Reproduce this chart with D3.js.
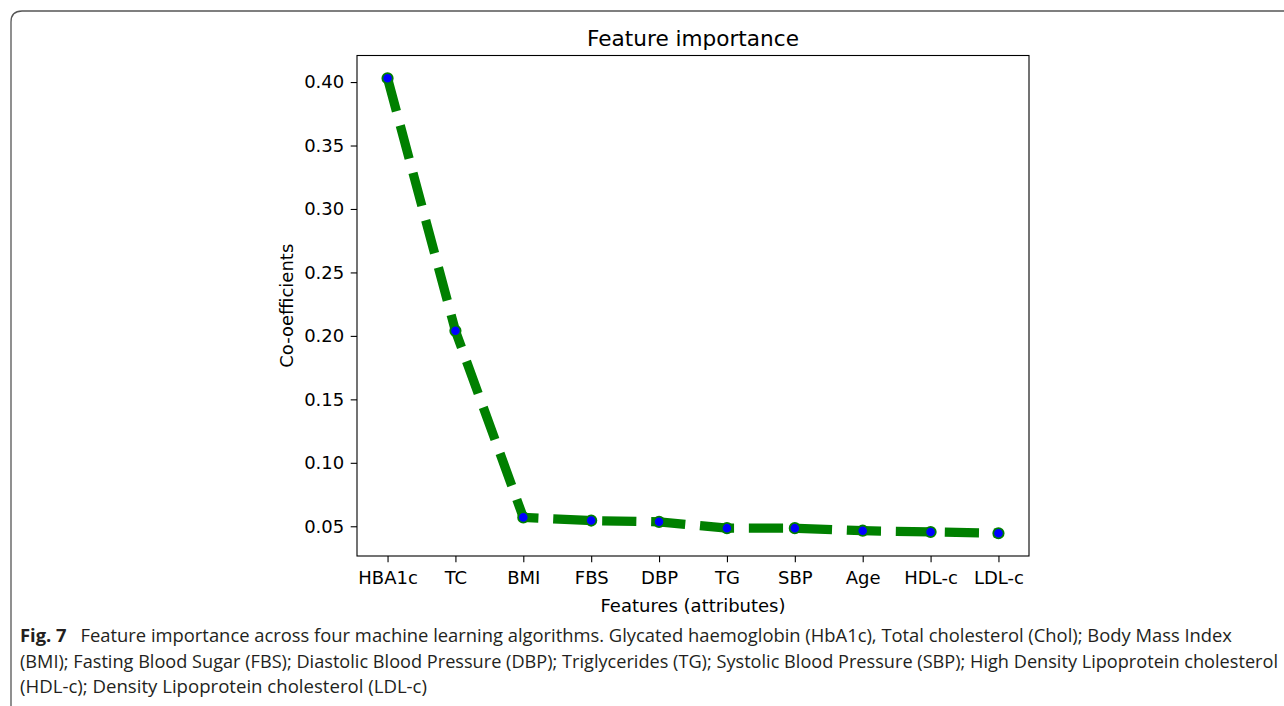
<!DOCTYPE html>
<html>
<head>
<meta charset="utf-8">
<script src="https://cdn.jsdelivr.net/npm/d3@7"></script>
<style>
  body { margin: 0; background: #fff; }
  svg { display: block; }
</style>
</head>
<body>
<svg></svg>
<script>
const features = ['HBA1c', 'TC', 'BMI', 'FBS', 'DBP', 'TG', 'SBP', 'Age', 'HDL-c', 'LDL-c'],
      coefficients = [0.403, 0.204, 0.057, 0.0545, 0.0535, 0.0485, 0.0485, 0.0465, 0.0455, 0.0445],
      yTicks = [0.05, 0.10, 0.15, 0.20, 0.25, 0.30, 0.35, 0.40],
      captionLines = [
        'Feature importance across four machine learning algorithms. Glycated haemoglobin (HbA1c), Total cholesterol (Chol); Body Mass Index',
        '(BMI); Fasting Blood Sugar (FBS); Diastolic Blood Pressure (DBP); Triglycerides (TG); Systolic Blood Pressure (SBP); High Density Lipoprotein cholesterol',
        '(HDL-c); Density Lipoprotein cholesterol (LDL-c)'
      ];

const width = 1284,
      height = 706,
      plotLeft = 357,
      plotRight = 1029,
      plotTop = 55.5,
      plotBottom = 556,
      font = '"DejaVu Sans", sans-serif',
      data = features.map((f, i) => ({ feature: f, value: coefficients[i] })),
      lo = d3.min(coefficients),
      hi = d3.max(coefficients),
      pad = (hi - lo) * 0.05,
      xScale = d3.scalePoint()
                 .domain(features)
                 .range([plotLeft, plotRight])
                 .padding(0.45),
      yScale = d3.scaleLinear()
                 .domain([lo - pad, hi + pad])
                 .range([plotBottom, plotTop]),
      xAxis = d3.axisBottom(xScale)
                .tickSize(6.3)
                .tickPadding(8.5)
                .tickSizeOuter(0),
      yAxis = d3.axisLeft(yScale)
                .tickValues(yTicks)
                .tickFormat(d3.format('.2f'))
                .tickSize(6.3)
                .tickPadding(6.5)
                .tickSizeOuter(0);

const svg = d3.select('svg')
    .attr('width', width)
    .attr('height', height);

// rounded frame of the figure box (runs off the right and bottom edge)
svg.append('path')
    .attr('d', `M11,${height + 2} L11,22 Q11,11 22,11 L${width + 2},11`)
    .attr('fill', 'none')
    .attr('stroke', '#555')
    .attr('stroke-width', 1.3);

const gx = svg.append('g')
    .attr('transform', `translate(0, ${plotBottom})`)
    .call(xAxis);

const gy = svg.append('g')
    .attr('transform', `translate(${plotLeft}, 0)`)
    .call(yAxis);

[gx, gy].forEach((g) => {
  g.select('.domain').remove();
  g.selectAll('line').attr('stroke', '#000').attr('stroke-width', 1.1);
  g.selectAll('text')
    .attr('fill', '#000')
    .style('font-family', font)
    .style('font-size', '18px');
});

svg.append('rect')
    .attr('x', plotLeft)
    .attr('y', plotTop)
    .attr('width', plotRight - plotLeft)
    .attr('height', plotBottom - plotTop)
    .attr('fill', 'none')
    .attr('stroke', '#000')
    .attr('stroke-width', 1.1);

const line = d3.line()
    .x((d) => xScale(d.feature))
    .y((d) => yScale(d.value));

svg.append('path')
    .datum(data)
    .attr('d', line)
    .attr('fill', 'none')
    .attr('stroke', 'green')
    .attr('stroke-width', 9.25)
    .attr('stroke-dasharray', '34.2,14.8')
    .attr('stroke-linecap', 'butt')
    .attr('stroke-linejoin', 'round');

svg.selectAll('circle')
  .data(data)
  .enter()
  .append('circle')
    .attr('cx', (d) => xScale(d.feature))
    .attr('cy', (d) => yScale(d.value))
    .attr('r', 5.2)
    .attr('fill', 'blue')
    .attr('stroke', 'green')
    .attr('stroke-width', 1.8);

svg.append('text')
    .text('Feature importance')
    .attr('x', (plotLeft + plotRight) / 2)
    .attr('y', 46)
    .style('text-anchor', 'middle')
    .style('font-family', font)
    .style('font-size', '21.6px');

svg.append('text')
    .text('Features (attributes)')
    .attr('x', (plotLeft + plotRight) / 2)
    .attr('y', 612)
    .style('text-anchor', 'middle')
    .style('font-family', font)
    .style('font-size', '18px');

svg.append('text')
    .text('Co-oefficients')
    .attr('transform', `translate(293, ${(plotTop + plotBottom) / 2}) rotate(-90)`)
    .style('text-anchor', 'middle')
    .style('font-family', font)
    .style('font-size', '18px');

// caption
const capFont = '"Open Sans", "Noto Sans", sans-serif',
      capY = [642, 667.5, 693],
      capLen = [1212, 1258, 407];

captionLines.forEach((txt, i) => {
  const t = svg.append('text')
      .attr('x', 20)
      .attr('y', capY[i])
      .attr('textLength', capLen[i])
      .attr('lengthAdjust', 'spacingAndGlyphs')
      .attr('fill', '#231f20')
      .style('font-family', capFont)
      .style('font-size', '18px');
  if (i === 0) {
    t.append('tspan').text('Fig. 7').style('font-weight', 'bold');
    t.append('tspan').text('\u2002 ' + txt);
  } else {
    t.text(txt);
  }
});
</script>
</body>
</html>
